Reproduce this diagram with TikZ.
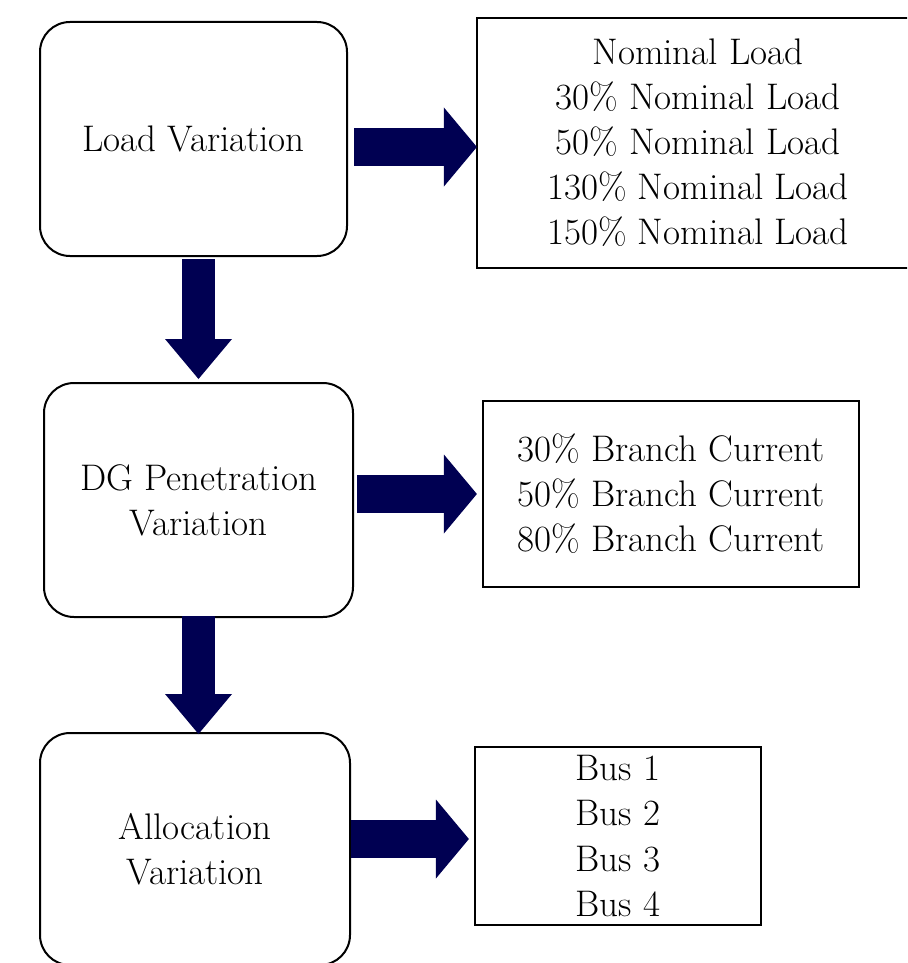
\documentclass[tikz,border=0pt]{standalone}
\usepackage{tikz}
\usetikzlibrary{positioning,arrows.meta}

\definecolor{flownavy}{RGB}{0,0,82}

\begin{document}
\begin{tikzpicture}[
    x=0.5pt, y=-0.5pt,
    every text node part/.style={align=center},
    stage/.style={
      % The shape:
      rectangle, rounded corners=15pt,
      % The border:
      draw=black, line width=1pt,
      % Font
      font=\fontsize{18.5}{22.5}\selectfont,
      inner sep=0pt,
    },
    cases/.style={
      rectangle,
      draw=black, line width=1.1pt,
      font=\fontsize{18.5}{22.5}\selectfont,
      inner sep=0pt,
    },
    % fat arrows, sideways and downwards
    flow/.style={
      flownavy, line width=19pt,
      -{Triangle[length=16.5pt,width=39.5pt,line width=0pt]},
    },
    drop/.style={
      flownavy, line width=16.5pt,
      -{Triangle[length=20pt,width=33.5pt,line width=0pt]},
    }]

    \clip (0,0) rectangle (907,963);

    \node[stage, minimum width=153.5pt, minimum height=117pt] (load) at (193.5,139)
          {Load Variation};
    \node[cases, minimum width=221pt, minimum height=125pt] (loadcases) at (698,143)
          {Nominal Load \\ 30\% Nominal Load \\ 50\% Nominal Load \\
           130\% Nominal Load \\ 150\% Nominal Load};

    \node[stage, minimum width=154.5pt, minimum height=117pt] (dg) at (198.5,500)
          {DG Penetration \\ Variation};
    \node[cases, minimum width=188pt, minimum height=93pt] (dgcases) at (671,494)
          {30\% Branch Current \\ 50\% Branch Current \\ 80\% Branch Current};

    \node[stage, minimum width=155pt, minimum height=116pt] (alloc) at (195,849)
          {Allocation \\ Variation};
    \node[cases, minimum width=143pt, minimum height=89pt] (alloccases) at (618,836)
          {Bus 1 \\ Bus 2 \\ Bus 3 \\ Bus 4};

    \draw[flow] ([xshift=3pt,yshift=-4pt]load.east) -- ([xshift=0.5pt,yshift=-2pt]loadcases.west);
    \draw[flow] ([xshift=1.5pt,yshift=3pt]dg.east) -- ([xshift=-2.5pt]dgcases.west);
    \draw[flow] ([yshift=5pt]alloc.east) -- ([xshift=-2.5pt,yshift=-1.5pt]alloccases.west);

    \draw[drop] ([xshift=2.5pt,yshift=-1pt]load.south) -- ([yshift=1.5pt]dg.north);
    \draw[drop] ([yshift=1pt]dg.south) -- ([xshift=1.75pt,yshift=-1pt]alloc.north);
  \end{tikzpicture}
\end{document}
